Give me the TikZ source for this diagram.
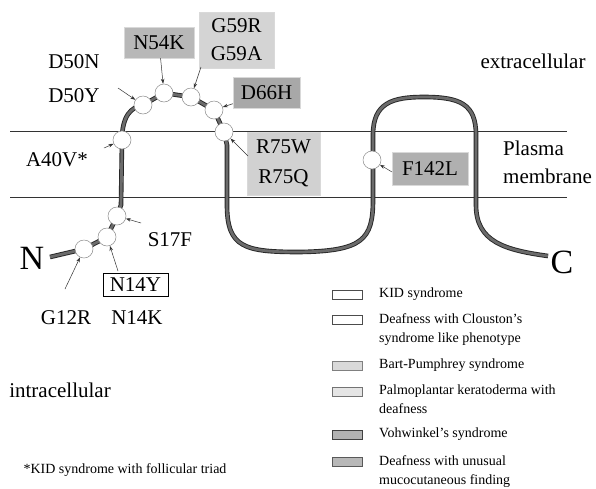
\documentclass[tikz,border=0pt]{standalone}
\usepackage{fontspec}
\setmainfont{Liberation Serif}
\usetikzlibrary{arrows.meta}
\newcommand{\labfont}{\fontsize{21}{28}\selectfont}
\newcommand{\legfont}{\fontsize{14}{19}\selectfont}
\begin{document}
\begin{tikzpicture}[x=1pt,y=-1pt,
  membrane/.style={draw=black!80,line width=0.8pt},
  prot/.style={draw=black!85,line width=0.9pt,double=black!58,double distance=2.8pt},
  res/.style={circle,minimum size=18pt,inner sep=0pt,fill=white,draw=black!45,line width=0.5pt},
  lab/.style={font=\labfont,inner sep=0pt,align=center},
  mbox/.style={font=\labfont,inner sep=0pt,align=center,draw=black!15,line width=0.4pt},
  ptr/.style={draw=black!80,line width=0.5pt,-{Stealth[length=5pt,width=3.5pt]}},
  legbox/.style={minimum width=30pt,minimum height=9pt,inner sep=0pt,draw=black!70,line width=0.6pt},
  legtext/.style={font=\legfont,inner sep=0pt,align=left,anchor=north west}
]
\useasboundingbox (0,0) rectangle (596,488);
\fill[white] (0,0) rectangle (596,488);

% membrane
\coordinate (m1a) at (10,131);
\coordinate (m1b) at (567,131);
\coordinate (m2a) at (10,197);
\coordinate (m2b) at (567,197);
\draw[membrane] (m1a) -- (m1b);
\draw[membrane] (m2a) -- (m2b);

% protein chain
\draw[prot] (50,257) -- (84,249) -- (107,237) -- (117,216) -- (121,205) -- (122,140)
  .. controls (122,116) and (131,107) .. (143,105) -- (164,93) -- (191,97) -- (214,110) -- (224,132)
  -- (227,145) -- (227,205) .. controls (227,248) and (245,252) .. (300,252)
  .. controls (362,251) and (373,240) .. (373,200) -- (373,135)
  .. controls (373,103) and (392,97) .. (424,97) .. controls (460,97) and (476,104) .. (476,135)
  -- (476,205) .. controls (476,242) and (505,250) .. (548,256);

% residues
\node[res] (c12) at (84,249) {};
\node[res] (c14) at (107,237) {};
\node[res] (c17) at (117,216) {};
\node[res] (c40) at (122,140) {};
\node[res] (c50) at (143,105) {};
\node[res] (c54) at (164,93) {};
\node[res] (c59) at (191,97) {};
\node[res] (c66) at (214,110) {};
\node[res] (c75) at (224,132) {};
\node[res] (c142) at (372,160) {};

% termini
\node[font=\fontsize{34}{34}\selectfont,inner sep=0pt] (nterm) at (32,258) {N};
\node[font=\fontsize{34}{34}\selectfont,inner sep=0pt] (cterm) at (562,262) {C};

% labels
\node[lab] (d50) at (74,79) {D50N\\[6pt]D50Y};
\node[mbox,fill=black!28,minimum width=70pt,minimum height=31pt] (n54) at (159,42.5) {N54K};
\node[mbox,fill=black!17,minimum width=75pt,minimum height=56pt] (g59) at (236.5,40) {G59R\\G59A};
\node[mbox,fill=black!34,minimum width=67pt,minimum height=31pt] (d66) at (266.5,92.5) {D66H};
\node[mbox,fill=black!18,minimum width=73pt,minimum height=63pt] (r75) at (283.5,163.5) {R75W\\[2pt]R75Q};
\node[mbox,fill=black!31,minimum width=76pt,minimum height=33pt] (f142) at (430,168.5) {F142L};
\node[lab] (a40) at (57,160) {A40V*};
\node[lab] (s17) at (170,240) {S17F};
\node[lab,draw=black,line width=0.8pt,minimum width=65pt,minimum height=23pt] (n14y) at (135.5,284.5) {N14Y};
\node[lab] (n14k) at (137,318) {N14K};
\node[lab] (g12) at (66,318) {G12R};

\node[lab] (extra) at (533,61) {extracellular};
\node[lab,align=left,anchor=north west] (plasma) at (503,141) {Plasma\\membrane};
\node[lab] (intra) at (60,390) {intracellular};
\node[font=\legfont,inner sep=0pt] (foot) at (125,470) {*KID syndrome with follicular triad};

% pointers
\coordinate (p50) at (118,88);
\coordinate (p59) at (201,67);
\coordinate (p75) at (248,156);
\coordinate (p142) at (392,172);
\coordinate (p40) at (104,148);
\coordinate (p17) at (141,223);
\coordinate (p14) at (118,271);
\coordinate (p12) at (65,289);
\draw[ptr] (p50) -- (c50);
\draw[ptr] (n54) -- (c54);
\draw[ptr] (p59) -- (c59);
\draw[ptr] (d66) -- (c66);
\draw[ptr] (p75) -- (c75);
\draw[ptr] (p142) -- (c142);
\draw[ptr] (p40) -- (c40);
\draw[ptr] (p17) -- (c17);
\draw[ptr] (p14) -- (c14);
\draw[ptr] (p12) -- (c12);

% legend
\node[legbox,fill=white] (lb1) at (347,295) {};
\node[legtext] (lt1) at (379,288) {KID syndrome};
\node[legbox,fill=white] (lb2) at (347,320) {};
\node[legtext] (lt2) at (379,313) {Deafness with Clouston's\\syndrome like phenotype};
\node[legbox,fill=black!15,draw=black!50] (lb3) at (347,366) {};
\node[legtext] (lt3) at (379,359) {Bart-Pumphrey syndrome};
\node[legbox,fill=black!10,draw=black!55] (lb4) at (347,392) {};
\node[legtext] (lt4) at (379,385) {Palmoplantar keratoderma with\\deafness};
\node[legbox,fill=black!30,draw=black!75] (lb5) at (347,435) {};
\node[legtext] (lt5) at (379,428) {Vohwinkel's syndrome};
\node[legbox,fill=black!28,draw=black!65] (lb6) at (347,462) {};
\node[legtext] (lt6) at (379,455) {Deafness with unusual\\mucocutaneous finding};
\end{tikzpicture}
\end{document}
